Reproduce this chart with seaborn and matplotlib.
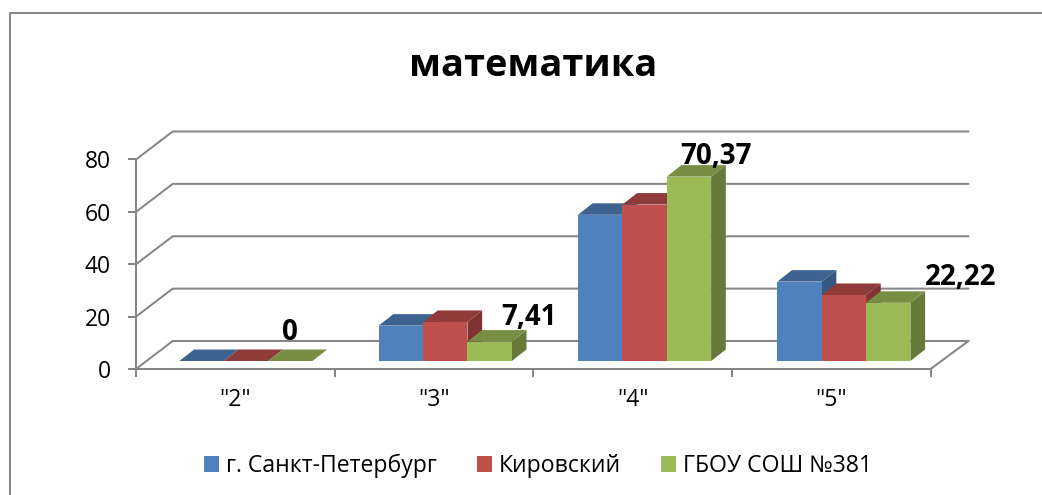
import matplotlib
matplotlib.use("Agg")
import matplotlib.pyplot as plt
from matplotlib.lines import Line2D
from matplotlib.patches import Polygon, Patch
import pandas as pd
import seaborn as sns

categories = ['"2"', '"3"', '"4"', '"5"']
series_names = ["г. Санкт-Петербург", "Кировский", "ГБОУ СОШ №381"]
spb_values = [0, 13.5, 55.8, 30.3]
kirov_values = [0, 14.9, 59.7, 25.2]
school_values = [0, 7.41, 70.37, 22.22]
school_labels = ["0", "7,41", "70,37", "22,22"]
y_ticks = [0, 20, 40, 60, 80]

front_colors = ["#4F81BD", "#C0504D", "#9BBB59"]
top_colors = ["#3E6391", "#8F3B39", "#778F45"]
side_colors = ["#355780", "#7F3433", "#667A3A"]
GREY = "#868686"
LW = 1.45
W, H = 1042, 495

sns.set_theme(style="white")
plt.rcParams["font.family"] = ["Open Sans", "DejaVu Sans"]

fig = plt.figure(figsize=(W / 100, H / 100), dpi=100)

def px_axes(left, right, top, bottom):
    return fig.add_axes([left / W, 1 - bottom / H, (right - left) / W, (bottom - top) / H])

# frame plane
frame = px_axes(136, 930.5, 159.5, 369)
frame.set_xlim(0, 4)
frame.set_ylim(0, 80)
frame.patch.set_alpha(0)
for s in ["top", "right"]:
    frame.spines[s].set_visible(False)
for s in ["left", "bottom"]:
    frame.spines[s].set_color(GREY)
    frame.spines[s].set_linewidth(LW)
frame.set_yticks(y_ticks)
frame.set_xticks(range(5))
frame.set_xticklabels([])
frame.tick_params(axis="both", length=5.5, width=LW, color=GREY, labelcolor="black", left=True, bottom=True)
frame.tick_params(axis="y", labelsize=16.5, pad=12.5)
frame.set_xticks([i + 0.5 for i in range(4)], minor=True)
frame.set_xticklabels(categories, minor=True, fontsize=16.5, color="black")
frame.tick_params(axis="x", which="minor", length=0, pad=13.5)
ux = 4 / 794.5
uy = 80 / 209.5
for v in y_ticks:
    frame.plot([0, 36.7 * ux, 832.5 * ux], [v, v + 28 * uy, v + 28 * uy], color=GREY, lw=LW, clip_on=False, zorder=1)
frame.plot([4, 832.5 * ux], [0, 28 * uy], color=GREY, lw=LW, clip_on=False, zorder=1)

# bar plane
bars = px_axes(146.3, 943.5, 151.4, 361)
df = pd.DataFrame({
    "category": categories * 3,
    "series": [n for n in series_names for _ in categories],
    "value": spb_values + kirov_values + school_values,
})
sns.barplot(data=df, x="category", y="value", hue="series", order=categories, hue_order=series_names,
            palette=front_colors, width=0.668, gap=0, saturation=1, legend=False, ax=bars, errorbar=None)
bars.set_xlim(-0.5, 3.5)
bars.set_ylim(0, 80)
bars.axis("off")
bars.patch.set_alpha(0)

bx = 4 / 797.2
by = 80 / 209.6
ddx = 14.7 * bx
ddy = 11.5 * by
for s, container in enumerate(bars.containers):
    for rect in container:
        x0, w, h = rect.get_x(), rect.get_width(), rect.get_height()
        z = 3 + s * 2
        rect.set_zorder(z + 1)
        rect.set_edgecolor("none")
        rect.set_clip_on(False)
        top = [(x0, h), (x0 + w, h), (x0 + w + ddx, h + ddy), (x0 + ddx, h + ddy)]
        side = [(x0 + w, 0), (x0 + w + ddx, ddy), (x0 + w + ddx, h + ddy), (x0 + w, h)]
        bars.add_patch(Polygon(side, closed=True, fc=side_colors[s], ec="none", zorder=z, clip_on=False))
        bars.add_patch(Polygon(top, closed=True, fc=top_colors[s], ec="none", zorder=z + 0.5, clip_on=False))

# data labels (green series), shifted by hand as in the reference
label_shift_px = [(0, 28), (39, 24), (27, 20), (72, 25)]
for rect, text, (sx, sy) in zip(bars.containers[2], school_labels, label_shift_px):
    bars.annotate(text, (rect.get_x() + rect.get_width() / 2, rect.get_height()), xytext=(sx * 0.72, sy * 0.72),
                  textcoords="offset points", ha="center", va="center", fontsize=20, fontweight="bold",
                  color="black", zorder=20, annotation_clip=False)

# title, legend, frame of the chart area
fig.text(533.5 / W, 1 - 66.5 / H, "математика", ha="center", va="center", fontsize=27.3, fontweight="bold", color="black")
handles = [Patch(fc=c, ec="none") for c in front_colors]
fig.legend(handles, series_names, loc="center", bbox_to_anchor=(538 / W, 1 - 466 / H), ncol=3, frameon=False,
           fontsize=16.6, handlelength=0.65, handleheight=0.65, handletextpad=0.3, columnspacing=1.74, labelcolor="black")
fig.add_artist(Line2D([10 / W, 10 / W, 1], [0, 1 - 13 / H, 1 - 13 / H], color=GREY, lw=LW, transform=fig.transFigure))

fig.savefig("out.png", dpi=100)
